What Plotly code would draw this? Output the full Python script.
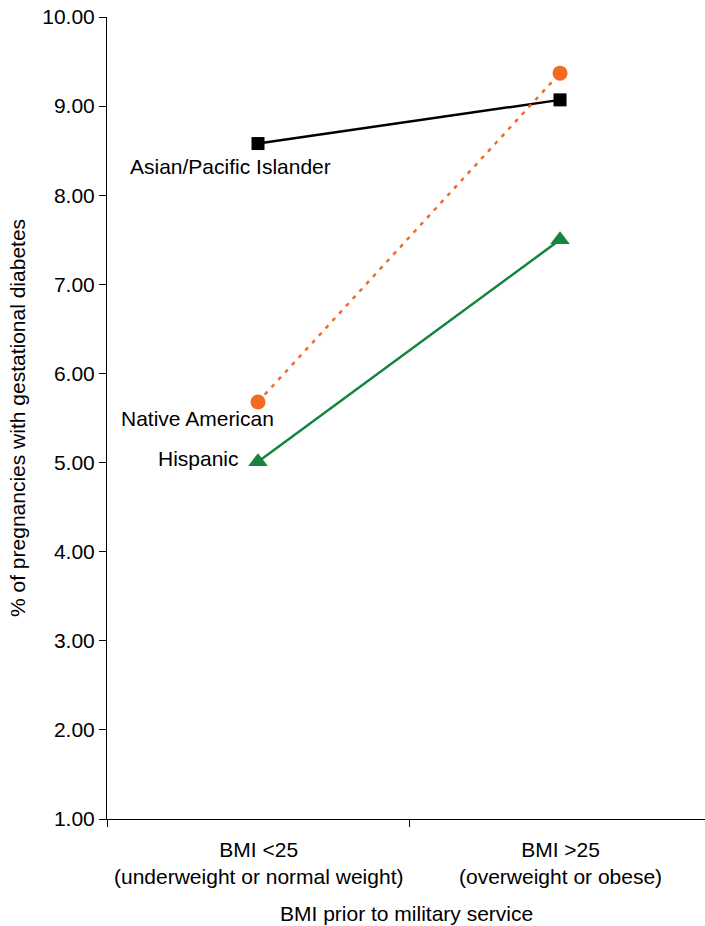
import plotly.graph_objects as go

categories = ["BMI <25<br>(underweight or normal weight)", "BMI >25<br>(overweight or obese)"]
asian = [8.58, 9.07]
native = [5.68, 9.37]
hispanic = [5.01, 7.50]
y_ticks = [1, 2, 3, 4, 5, 6, 7, 8, 9, 10]

FONT = "Liberation Sans, Arial, sans-serif"
FS = 21
xpos = [0, 1]

fig = go.Figure()
fig.add_trace(go.Scatter(x=xpos, y=asian, mode="lines+markers", name="Asian/Pacific Islander",
                         line=dict(color="#000000", width=2.5),
                         marker=dict(symbol="square", size=13, color="#000000")))
fig.add_trace(go.Scatter(x=xpos, y=native, mode="lines+markers", name="Native American",
                         line=dict(color="#F26B22", width=2.5, dash="4px,6px"),
                         marker=dict(symbol="circle", size=15, color="#F26B22")))
fig.add_trace(go.Scatter(x=xpos, y=hispanic, mode="lines+markers", name="Hispanic",
                         line=dict(color="#14843F", width=2.5),
                         marker=dict(symbol="triangle-up", size=17, color="#14843F")))

ann_font = dict(family=FONT, size=FS, color="#000000")
fig.add_annotation(x=0, y=asian[0], text="Asian/Pacific Islander", showarrow=False,
                   xanchor="center", yanchor="middle", xshift=-28, yshift=-23, font=ann_font)
fig.add_annotation(x=0, y=native[0], text="Native American", showarrow=False,
                   xanchor="center", yanchor="middle", xshift=-61, yshift=-17, font=ann_font)
fig.add_annotation(x=0, y=hispanic[0], text="Hispanic", showarrow=False,
                   xanchor="right", yanchor="middle", xshift=-17, yshift=3, font=ann_font)

fig.update_layout(
    width=705, height=926,
    margin=dict(l=107, r=0, t=17, b=107),
    plot_bgcolor="white", paper_bgcolor="white",
    showlegend=False,
    font=dict(family=FONT, size=FS, color="#000000"),
    xaxis=dict(
        tickmode="array", tickvals=[-0.5, 0.5, 1.5], ticktext=["", "", ""],
        range=[-0.5, 1.48], showline=True, linecolor="#000000", linewidth=1,
        ticks="outside", ticklen=7, tickcolor="#000000", showgrid=False, zeroline=False,
        automargin=False,
    ),
    yaxis=dict(
        range=[1, 10], tickvals=y_ticks, tickformat=".2f",
        showline=True, linecolor="#000000", linewidth=1,
        ticks="outside", ticklen=7, tickcolor="#000000", showgrid=False, zeroline=False,
        tickfont=dict(size=FS), automargin=False, ticklabeloverflow="allow",
    ),
)

for i, c in enumerate(categories):
    fig.add_annotation(x=xpos[i], y=0, xref="x", yref="paper", text=c, showarrow=False,
                       xanchor="center", yanchor="top", yshift=-17, font=ann_font)

fig.add_annotation(x=0.5, y=0, xref="paper", yref="paper", text="BMI prior to military service",
                   showarrow=False, xanchor="center", yanchor="middle", yshift=-94,
                   font=ann_font)
fig.add_annotation(x=0, y=0.5, xref="paper", yref="paper",
                   text="% of pregnancies with gestational diabetes", textangle=-90,
                   showarrow=False, xanchor="center", yanchor="middle", xshift=-90, font=ann_font)

fig.write_html("out.html", config={"displayModeBar": False},
               post_script="document.body.style.margin='0px';")
